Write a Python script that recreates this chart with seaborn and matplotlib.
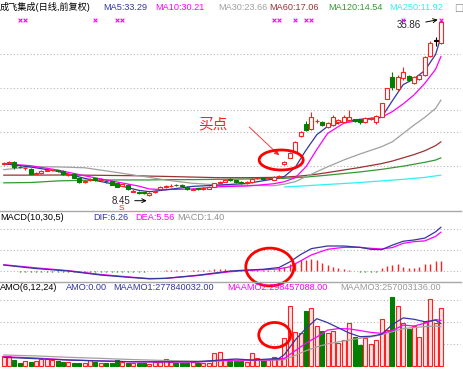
import numpy as np
import pandas as pd
import seaborn as sns
import matplotlib.pyplot as plt
from matplotlib.patches import Ellipse

# daily candles (前复权)
opens = [13.45, 13.6, 13.75, 13.0, 12.8, 12.65, 11.95, 12.0, 12.4, 12.45,
         12.45, 12.35, 11.75, 11.9, 11.25, 10.6, 10.9, 11.2, 10.95, 10.85,
         10.8, 10.45, 10.0, 10.2, 9.15, 9.05, 9.0, 8.6, 9.0, 9.55,
         9.8, 10.0, 10.2, 10.15, 9.9, 9.45, 9.6, 9.55, 9.6, 9.85,
         10.5, 10.7, 11.1, 10.9, 10.7, 10.4, 10.6, 11.2, 11.3, 11.2,
         11.0, 11.4, 13.4, 14.4, 15.3, 17.8, 19.6, 18.9, 20.1, 20.0,
         19.2, 19.5, 19.9, 20.0, 20.3, 20.4, 20.3, 19.9, 20.5, 20.0,
         20.8, 23.6, 27.0, 25.1, 26.8, 27.1, 26.1, 26.7, 27.3, 30.3,
         32.6, 32.3]
closes = [13.65, 13.65, 12.95, 12.9, 12.85, 11.95, 12.1, 12.35, 12.55, 12.55,
          12.3, 11.8, 11.9, 11.3, 10.65, 10.8, 11.1, 11.0, 11.0, 10.75,
          10.2, 9.9, 10.25, 9.5, 9.2, 8.95, 8.9, 8.95, 9.3, 9.85,
          10.0, 10.05, 10.1, 9.95, 9.5, 9.6, 9.55, 9.7, 9.85, 10.4,
          10.6, 10.95, 10.9, 10.65, 10.45, 10.6, 11.1, 11.25, 11.15, 11.25,
          11.45, 11.6, 13.7, 15.15, 16.9, 18.4, 18.7, 20.75, 20.15, 19.5,
          19.8, 20.7, 20.3, 20.7, 20.75, 20.1, 19.9, 20.6, 20.6, 20.9,
          22.9, 25.2, 25.4, 27.0, 27.7, 26.5, 27.0, 27.3, 30.1, 32.3,
          32.6, 35.5]
highs = [13.8, 13.85, 13.85, 13.15, 13.0, 12.75, 12.2, 12.45, 12.65, 12.7,
         12.55, 12.45, 12.0, 12.0, 11.3, 10.9, 11.25, 11.3, 11.2, 11.0,
         10.85, 10.5, 10.35, 10.25, 9.6, 9.25, 9.15, 9.05, 9.4, 9.95,
         10.15, 10.3, 10.3, 10.25, 10.0, 9.7, 9.75, 9.8, 9.95, 10.5,
         10.85, 11.1, 11.2, 11.0, 10.8, 10.75, 11.2, 11.4, 11.4, 11.4,
         11.55, 11.75, 13.9, 15.3, 17.0, 18.5, 20.1, 21.5, 20.4, 20.2,
         20.0, 21.0, 20.5, 21.0, 21.85, 20.5, 20.4, 20.8, 20.8, 21.0,
         23.0, 25.3, 27.8, 27.3, 28.5, 27.3, 27.2, 27.5, 30.3, 32.6,
         33.2, 35.86]
lows = [13.35, 13.45, 12.6, 12.8, 12.55, 11.85, 11.85, 11.95, 12.3, 12.35,
        12.2, 11.7, 11.55, 11.2, 10.55, 10.5, 10.8, 10.85, 10.75, 10.55,
        10.1, 9.8, 9.95, 9.4, 9.05, 8.8, 8.75, 8.45, 8.9, 9.45,
        9.7, 9.85, 10.0, 9.85, 9.4, 9.35, 9.4, 9.45, 9.5, 9.8,
        10.4, 10.6, 10.8, 10.55, 10.35, 10.3, 10.5, 11.05, 11.05, 11.1,
        10.9, 11.3, 13.3, 14.3, 15.2, 17.7, 18.5, 18.8, 19.8, 19.4,
        19.0, 19.4, 19.7, 19.9, 20.2, 19.9, 19.7, 19.8, 20.3, 19.7,
        20.7, 23.5, 25.0, 24.8, 26.5, 26.3, 25.9, 26.5, 27.2, 30.1,
        31.8, 32.1]

# moving averages as drawn on the chart, sampled at these bars
ma_days = [0, 5, 10, 15, 20, 25, 27, 30, 35, 40, 45, 50, 52,
           54, 56, 58, 60, 63, 66, 70, 72, 74, 76, 78, 80, 81]
ma5 = [13.48, 12.97, 12.3, 11.2, 10.37, 9.34, 9.12, 9.4, 9.95, 10.16, 10.4, 11.1, 11.5,
       12.9, 15.6, 18.0, 19.3, 20.05, 20.4, 20.7, 23.3, 25.8, 26.7, 28.0, 30.5, 33.29]
ma10 = [13.48, 13.17, 12.5, 11.6, 10.79, 10.0, 9.54, 9.45, 9.55, 9.9, 10.0, 10.35, 10.68,
        11.3, 13.0, 15.7, 18.2, 19.8, 20.25, 20.7, 21.6, 22.8, 24.2, 26.0, 28.2, 30.21]
ma30 = [12.55, 13.0, 12.98, 12.85, 12.24, 11.6, 11.36, 10.94, 10.43, 10.16, 10.1, 10.05, 10.3,
        10.68, 11.45, 12.24, 13.0, 14.06, 15.0, 16.13, 16.9, 18.2, 19.5, 20.7, 22.1, 23.4]
ma60 = [11.7, 11.7, 11.72, 11.7, 11.65, 11.6, 11.55, 11.5, 11.4, 11.3, 11.3, 11.35, 11.4,
        11.5, 11.65, 11.85, 12.1, 12.5, 12.9, 13.5, 13.9, 14.4, 14.9, 15.5, 16.3, 16.9]
ma120 = [10.5, 10.55, 10.8, 10.9, 10.95, 10.95, 10.95, 11.0, 11.0, 11.05, 11.1, 11.15, 11.2,
         11.3, 11.4, 11.55, 11.7, 11.95, 12.2, 12.6, 12.85, 13.1, 13.4, 13.7, 14.05, 14.4]
ma250_days = [52, 56, 60, 66, 70, 74, 78, 81]
ma250 = [9.85, 10.05, 10.25, 10.55, 10.8, 11.05, 11.35, 11.7]

# MACD(10,30,5)
macd_hist = [0.07, 0.04, -0.07, -0.11, -0.14, -0.21, -0.21, -0.17, -0.14, -0.11,
             -0.11, -0.14, -0.17, -0.17, -0.21, -0.17, -0.14, -0.11, -0.09, -0.09,
             -0.11, -0.14, -0.11, -0.14, -0.17, -0.14, -0.11, -0.07, -0.04, 0.04,
             0.09, 0.14, 0.14, 0.11, 0.07, 0.09, 0.11, 0.14, 0.17, 0.26,
             0.29, 0.26, 0.21, 0.14, 0.11, 0.17, 0.21, 0.19, 0.14, 0.14,
             0.21, 0.39, 0.57, 0.96, 1.19, 1.57, 1.57, 1.76, 1.57, 1.10,
             0.86, 0.53, 0.39, 0.29, 0.14, 0.07, -0.10, -0.14, -0.14, -0.10,
             0.39, 0.71, 0.86, 0.96, 0.61, 0.39, 0.39, 0.61, 1.00, 1.00,
             1.47, 1.40]
macd_days = [0, 6, 12, 18, 24, 27, 30, 36, 42, 45, 48, 51, 53,
             55, 57, 60, 63, 66, 68, 70, 72, 74, 76, 78, 80, 81]
dif = [0.85, 0.35, 0.0, -0.58, -0.95, -1.12, -1.05, -0.6, 0.0, 0.14, 0.24, 0.5, 1.3,
       2.35, 3.2, 3.57, 3.57, 3.38, 3.1, 3.05, 3.7, 4.25, 4.43, 4.7, 5.6, 6.26]
dea = [0.9, 0.45, 0.05, -0.5, -0.9, -1.08, -1.05, -0.65, -0.1, 0.08, 0.18, 0.3, 0.6,
       1.45, 2.3, 3.1, 3.38, 3.38, 3.24, 3.15, 3.35, 3.95, 4.19, 4.3, 4.95, 5.56]

# AMO (成交额, 百万元)
amo = [66, 66, 39, 22, 35, 26, 33, 44, 48, 39,
       33, 26, 28, 22, 22, 18, 39, 28, 18, 22,
       22, 39, 28, 18, 18, 18, 22, 13, 28, 28,
       48, 28, 22, 18, 22, 28, 22, 18, 22, 87,
       94, 48, 44, 35, 35, 28, 83, 54, 39, 39,
       57, 50, 183, 393, 223, 219, 360, 380, 262, 229,
       216, 229, 153, 170, 282, 190, 138, 183, 144, 170,
       308, 236, 449, 390, 282, 242, 262, 190, 288, 439,
       282, 380]
amo_days = [0, 6, 12, 18, 24, 30, 36, 40, 43, 46, 51, 52, 54, 56,
            58, 60, 62, 64, 66, 68, 70, 72, 74, 76, 78, 80, 81]
maamo1 = [57, 48, 39, 33, 28, 28, 28, 39, 46, 39, 50, 75, 170, 247,
          310, 284, 250, 216, 192, 195, 208, 272, 315, 306, 290, 300, 278]
maamo2 = [61, 52, 40, 33, 27, 26, 26, 35, 39, 39, 42, 50, 100, 150,
          190, 235, 245, 243, 232, 220, 214, 232, 268, 262, 280, 304, 298]
maamo3 = [72, 66, 57, 50, 42, 36, 32, 33, 35, 36, 39, 42, 70, 100,
          125, 145, 158, 170, 182, 190, 205, 225, 245, 252, 258, 262, 257]

signal_days = [3, 4, 17, 21, 22, 50, 51, 54, 56, 57, 74, 81]
price_grid = [13.1, 18.4, 21.85, 25.3, 30.6]
macd_grid = [0, 3, 6]
amo_grid = [144, 288, 432]

RED = "#ff2020"
GREEN = "#007f00"
NAVY = "#3535a0"
MAGENTA = "#ff00ff"
GRAY = "#a0a0a0"
BROWN = "#9c3232"
MGREEN = "#339933"
CYAN = "#30f0f0"

sns.set_theme(style="white")
plt.rcParams["font.family"] = ["Liberation Sans", "Noto Sans CJK SC", "DejaVu Sans"]

W, H = 463, 369
fig = plt.figure(figsize=(W / 100, H / 100), dpi=100)
fig.patch.set_facecolor("white")


def px_axes(top, bottom):
    a = fig.add_axes([0, 1 - bottom / H, 461 / W, (bottom - top) / H])
    a.set_facecolor("none")
    for s in a.spines.values():
        s.set_visible(False)
    a.set_xticks([])
    a.set_yticks([])
    return a


ax = px_axes(0, 211)
ax_macd = px_axes(211, 282)
ax_amo = px_axes(282, 369)
for a in (ax_macd, ax_amo):
    a.spines["top"].set_visible(True)
    a.spines["top"].set_color("#a8a8a8")
    a.spines["top"].set_linewidth(1)

dot = (0, (1, 2))
for g in price_grid:
    ax.axhline(g, color="#b8b8b8", lw=0.8, ls=dot, zorder=0)
for g in macd_grid:
    ax_macd.axhline(g, color="#b8b8b8", lw=0.8, ls=dot, zorder=0)
for g in amo_grid:
    ax_amo.axhline(g, color="#b8b8b8", lw=0.8, ls=dot, zorder=0)

# ---- main panel
days = np.arange(len(closes))
o, c, hi, lo = map(np.array, (opens, closes, highs, lows))
col = np.where(c > o, RED, np.where(c < o, GREEN, "black"))
face = np.where(c > o, "white", col)

for y, clr in [(ma120, MGREEN), (ma60, BROWN), (ma30, GRAY), (ma10, MAGENTA), (ma5, NAVY)]:
    sns.lineplot(x=ma_days, y=y, ax=ax, color=clr, lw=0.9, zorder=2)
sns.lineplot(x=ma250_days, y=ma250, ax=ax, color=CYAN, lw=0.9, zorder=2)

ax.vlines(days, lo, hi, colors=col, lw=0.8, zorder=3)
ax.bar(days, np.maximum(np.abs(c - o), 0.08), bottom=np.minimum(o, c), width=0.72,
       color=face, edgecolor=col, lw=0.8, zorder=4)

ax.scatter(signal_days, [hi.max()] * len(signal_days), marker="x", s=7,
           color=MAGENTA, lw=0.8, zorder=5)

lo_i, hi_i = int(lo.argmin()), int(hi.argmax())
ax.annotate(f"{lo.min():.2f}", xy=(lo_i - 0.5, lo.min() - 0.73), xytext=(-12, 0),
            textcoords="offset points", ha="right", va="center", fontsize=7,
            arrowprops=dict(arrowstyle="->", color="black", lw=0.7, shrinkA=1, shrinkB=0))
ax.text(lo_i - 5.1, lo.min() - 2.0, "S", color=RED, fontsize=6, ha="center", va="center",
        clip_on=False)
ax.annotate(f"{hi.max():.2f}", xy=(hi_i - 0.6, hi.max() + 0.05), xytext=(-12, -4),
            textcoords="offset points", ha="right", va="center", fontsize=7,
            arrowprops=dict(arrowstyle="->", color="black", lw=0.7, shrinkA=1, shrinkB=0))

ax.text(38.8, 19.6, "买点", color=RED, fontsize=10.5, ha="center", va="center",
        family=["Noto Sans CJK SC"], fontweight="light")
ax.annotate("", xy=(51.4, 14.5), xytext=(45.1, 19.5),
            arrowprops=dict(arrowstyle="-|>", color=RED, lw=0.6, mutation_scale=7))
ax.add_patch(Ellipse((51.4, 14.06), 8.15, 3.12, fill=False, ec="red", lw=2, zorder=6))

# ---- MACD panel
hist = np.array(macd_hist)
ax_macd.vlines(days, 0, hist, colors=np.where(hist > 0, RED, GREEN), lw=1, zorder=2)
sns.lineplot(x=macd_days, y=dea, ax=ax_macd, color=MAGENTA, lw=0.9, zorder=3)
sns.lineplot(x=macd_days, y=dif, ax=ax_macd, color=NAVY, lw=0.9, zorder=3)
ax_macd.add_patch(Ellipse((49.3, 0.57), 8.9, 5.4, fill=False, ec="red", lw=2,
                          zorder=6, clip_on=False))

# ---- AMO panel
vcol = np.where(c >= o, RED, GREEN)
vface = np.where(c >= o, "#ffe4e4", GREEN)
ax_amo.bar(days, amo, width=0.72, color=vface, edgecolor=vcol, lw=0.8, zorder=2)
sns.lineplot(x=amo_days, y=maamo3, ax=ax_amo, color=GRAY, lw=0.9, zorder=3)
sns.lineplot(x=amo_days, y=maamo2, ax=ax_amo, color=MAGENTA, lw=0.9, zorder=3)
sns.lineplot(x=amo_days, y=maamo1, ax=ax_amo, color=NAVY, lw=0.9, zorder=3)
ax_amo.add_patch(Ellipse((50.2, 203), 5.9, 164, fill=False, ec="red", lw=2, zorder=6))

for a in (ax, ax_macd, ax_amo):
    a.set_xlabel("")
    a.set_ylabel("")
    a.set_xlim(-0.667, 84.7)
ax.set_ylim(6.114, 38.98)
ax_macd.set_ylim(-1.571, 8.571)
ax_amo.set_ylim(-19.65, 550.2)

# ---- header texts
heads = [
    (7.5, [("成飞集成(日线,前复权)", "black", 0), ("MA5:33.29", NAVY, 103),
           ("MA10:30.21", MAGENTA, 155), ("MA30:23.66", GRAY, 218),
           ("MA60:17.06", BROWN, 269), ("MA120:14.54", MGREEN, 328),
           ("MA250:11.92", CYAN, 389)]),
    (217, [("MACD(10,30,5)", "black", 0), ("DIF:6.26", NAVY, 93),
           ("DEA:5.56", MAGENTA, 135), ("MACD:1.40", "#909090", 177)]),
    (288, [("AMO(6,12,24)", "black", 0), ("AMO:0.00", NAVY, 66),
           ("MAAMO1:277840032.00", NAVY, 113), ("MAAMO2:298457088.00", MAGENTA, 227),
           ("MAAMO3:257003136.00", "#999999", 340)]),
]
for ypx, items in heads:
    for txt, clr, xpx in items:
        fig.text(xpx / W, 1 - ypx / H, txt, color=clr, fontsize=6.6, ha="left", va="center")
fig.text(454 / W, 1 - 8 / H, "□", color="#888888", fontsize=7, ha="left", va="center",
         family=["DejaVu Sans"])

fig.savefig("out.png", dpi=100, facecolor="white")
